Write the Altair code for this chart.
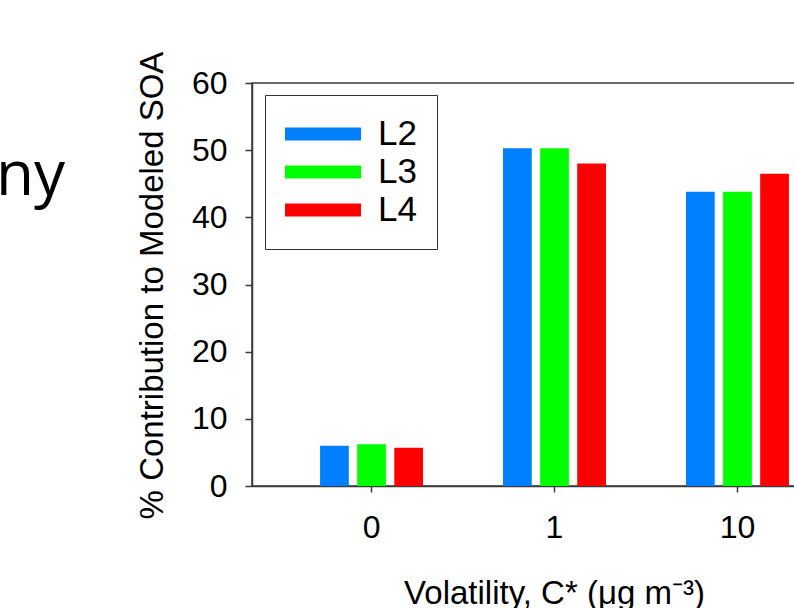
import altair as alt
import pandas as pd

# Share of modeled SOA by volatility bin for three lumping schemes
volatility = ["0", "1", "10"]
series = ["L2", "L3", "L4"]
l2_values = [6.0, 50.3, 43.8]
l3_values = [6.2, 50.3, 43.8]
l4_values = [5.7, 48.0, 46.5]
series_colors = ["#0080FF", "#00FF00", "#FF0000"]
y_ticks = [0, 10, 20, 30, 40, 50, 60]

rows = []
for name, vals in zip(series, [l2_values, l3_values, l4_values]):
    for bin_label, val in zip(volatility, vals):
        rows.append({"volatility": bin_label, "series": name, "value": val})
df = pd.DataFrame(rows)

FONT = "Liberation Sans"
AXIS_GRAY = "#3a3a3a"

bars = alt.Chart(df).mark_bar().encode(
    x=alt.X(
        "volatility:N",
        sort=volatility,
        scale=alt.Scale(paddingInner=0.437, paddingOuter=0.372),
        axis=alt.Axis(
            title="Volatility, C* (μg m⁻³)",
            labelAngle=0,
            labelFont=FONT,
            labelFontSize=32,
            labelColor="black",
            labelPadding=20,
            tickSize=6,
            tickWidth=1.5,
            tickColor=AXIS_GRAY,
            domainColor=AXIS_GRAY,
            domainWidth=1.5,
            titleFont=FONT,
            titleFontSize=33,
            titleFontWeight="normal",
            titleColor="black",
            titleX=302,
            titleY=117,
            titleAlign="center",
            titleBaseline="alphabetic",
        ),
    ),
    xOffset=alt.XOffset(
        "series:N",
        sort=series,
        scale=alt.Scale(paddingInner=0.225, paddingOuter=0),
    ),
    y=alt.Y(
        "value:Q",
        scale=alt.Scale(domain=[0, 60]),
        axis=alt.Axis(
            title="% Contribution to Modeled SOA",
            values=y_ticks,
            grid=False,
            labelFont=FONT,
            labelFontSize=32,
            labelColor="black",
            labelPadding=18,
            tickSize=7,
            tickWidth=1.5,
            tickColor=AXIS_GRAY,
            domainColor=AXIS_GRAY,
            domainWidth=1.5,
            titleFont=FONT,
            titleFontSize=33,
            titleFontWeight="normal",
            titleColor="black",
            titleAngle=270,
            titleX=-90,
            titleY=202,
            titleAlign="center",
            titleBaseline="alphabetic",
        ),
    ),
    color=alt.Color(
        "series:N",
        sort=series,
        scale=alt.Scale(domain=series, range=series_colors),
        legend=alt.Legend(
            title=None,
            orient="none",
            legendX=13,
            legendY=12,
            direction="vertical",
            symbolType="M-1,-0.171H1V0.171H-1Z",
            symbolSize=5776,
            symbolStrokeWidth=0,
            symbolOpacity=1,
            clipHeight=38,
            rowPadding=0,
            labelOffset=17,
            labelExpr="datum.label + ' '",
            labelFont=FONT,
            labelFontSize=35,
            labelColor="black",
            padding=20,
            strokeColor="#333333",
            fillColor="white",
        ),
    ),
)

# fragment of the surrounding slide text on the left
slide_text = alt.Chart(pd.DataFrame({"t": ["ny"]})).mark_text(
    font="Open Sans", fontSize=62, align="right", baseline="alphabetic", color="black"
).encode(x=alt.value(-187), y=alt.value(112), text="t:N")

chart = alt.layer(bars, slide_text).properties(
    width=605,
    height=403,
    autosize=alt.AutoSizeParams(type="none"),
    padding={"left": 252, "top": 83, "right": -63, "bottom": 122},
    background="white",
).configure_view(stroke=AXIS_GRAY, strokeWidth=1.5)

chart.save("out.html", embed_options={"renderer": "svg", "actions": False})
